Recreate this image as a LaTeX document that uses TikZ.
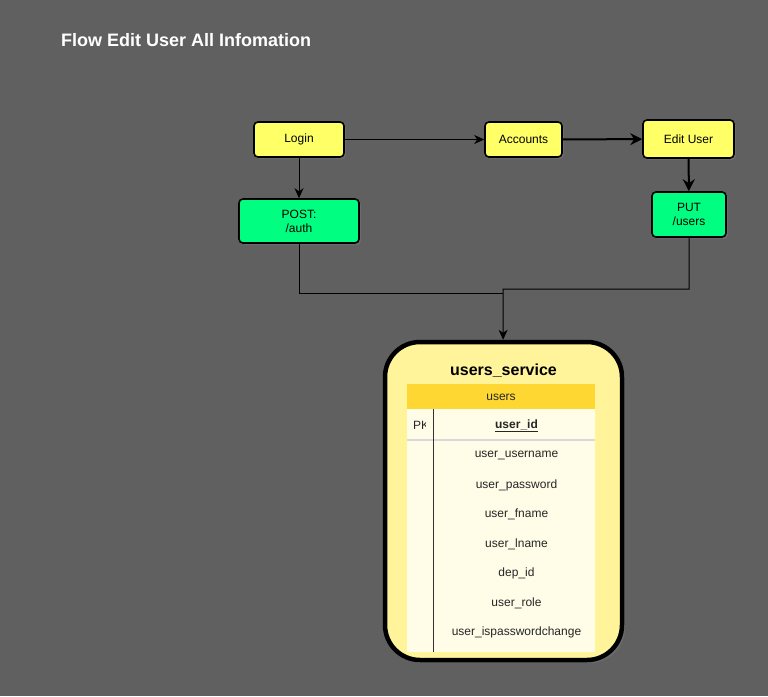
\documentclass[tikz,border=0pt]{standalone}
\usepackage{fontspec}
\setmainfont{Liberation Sans}
\usetikzlibrary{arrows.meta}
\usetikzlibrary{shadows}
\usetikzlibrary{calc}
\usepackage{xcolor}
\definecolor{bggray}{RGB}{96,96,96}
\definecolor{boxyellow}{RGB}{255,255,102}
\definecolor{boxgreen}{RGB}{0,255,128}
\definecolor{dbyellow}{RGB}{255,244,153}
\definecolor{tblhead}{RGB}{255,215,51}
\definecolor{tblrow}{RGB}{255,253,231}

\tikzset{
    pagebox/.style={draw=black, line width=1.6pt, rounded corners=4pt, fill=boxyellow,
        drop shadow={opacity=0.35, shadow xshift=2pt, shadow yshift=-2pt},
        font=\fontsize{12}{14}\selectfont, align=center, inner sep=0pt},
    apibox/.style={pagebox, fill=boxgreen},
    flow/.style={-{Stealth[length=10pt, width=9pt, inset=3pt]}, line width=1pt},
    flowthick/.style={-{Stealth[length=12pt, width=12pt, inset=4pt]}, line width=2pt},
    fieldtext/.style={font=\fontsize{12}{14}\selectfont, text=black!85}
}

\begin{document}
\begin{tikzpicture}[x=1pt, y=-1pt]
    % latar belakang
    \fill[bggray] (0,0) rectangle (768,696);
    \useasboundingbox (0,0) rectangle (768,696);

    % judul
    \node[anchor=west, inner sep=0pt, text=white, font=\fontsize{18}{21}\selectfont\bfseries] (title) at (61,40) {Flow Edit User All Infomation};

    % halaman
    \node[pagebox, minimum width=90, minimum height=35] (login)    at (299,139.5) {Login};
    \node[pagebox, minimum width=77, minimum height=35] (accounts) at (523.5,139.5) {Accounts};
    \node[pagebox, minimum width=91, minimum height=38] (edituser) at (688.5,139) {Edit User};

    % api
    \node[apibox, minimum width=120, minimum height=44] (postauth) at (299,221) {POST:\\/auth};
    \node[apibox, minimum width=74, minimum height=45]  (putusers) at (689,214.5) {PUT\\/users};

    % service
    \node[draw=black, line width=4.5pt, rounded corners=35pt, fill=dbyellow,
        minimum width=237, minimum height=318, inner sep=0pt,
        drop shadow={opacity=0.35, shadow xshift=3pt, shadow yshift=-3pt}] (service) at (503.5,501) {};
    \node[font=\fontsize{16}{19}\selectfont\bfseries] (servicename) at (503.5,371) {users\_service};

    % tabel users
    \fill[tblhead] (407,384) rectangle (595,409);
    \node[fieldtext] (tblname) at (501,397.5) {users};
    \fill[tblrow] (407,409) rectangle (595,652);
    \begin{scope}
        \clip (407,409) rectangle (425,440);
        \node[fieldtext, anchor=west, inner sep=0pt] (pk) at (413,425.5) {PK};
    \end{scope}
    \node[fieldtext, font=\fontsize{12}{14}\selectfont\bfseries] (userid) at (516.5,425.5) {\underline{user\_id}};
    \draw[black!15, line width=1.5pt] (407,440) -- (595,440);
    \draw[black!80, line width=1pt] (433,409) -- (433,652);

    \foreach \fld/\yy in {user\_username/454, user\_password/484, user\_fname/513,
        user\_lname/543, dep\_id/572, user\_role/602, user\_ispasswordchange/631}
        \node[fieldtext] at (516.5,\yy+1.5) {\fld};

    % alur
    \draw[flow] (login) -- (accounts);
    \draw[flowthick] (accounts) -- (edituser);
    \draw[flow] (login) -- (postauth);
    \draw[flowthick] (edituser) -- (putusers);

    \coordinate (joinA) at (503,293);
    \coordinate (joinB) at (503,289);
    \draw[line width=1pt] (postauth) |- (joinA);
    \draw[flow] (putusers) |- (joinB) -- (service);
\end{tikzpicture}
\end{document}
